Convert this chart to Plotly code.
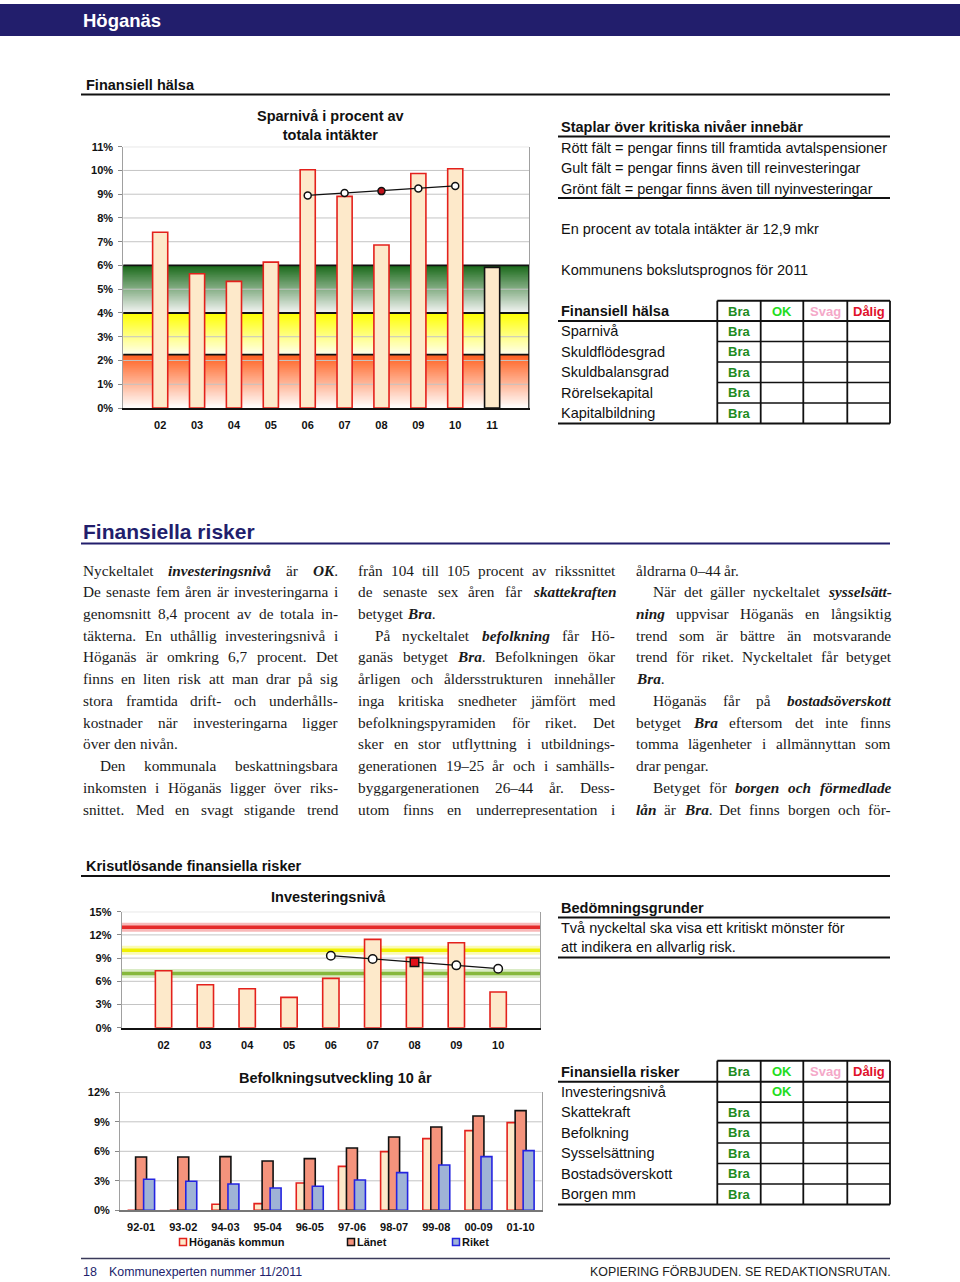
import plotly.graph_objects as go

# ---------------- data ----------------
years_spar = ['02', '03', '04', '05', '06', '07', '08', '09', '10', '11']
spar_pct = [7.40, 5.65, 5.33, 6.14, 10.03, 8.91, 6.86, 9.87, 10.07, 5.92]
spar_trend_years = ['06', '07', '08', '09', '10']
spar_trend = [8.95, 9.05, 9.13, 9.24, 9.35]
spar_levels = [2.25, 4.0, 6.0]          # tops of red / yellow / green fields

years_inv = ['02', '03', '04', '05', '06', '07', '08', '09', '10']
inv_pct = [7.37, 5.56, 5.04, 3.92, 6.38, 11.42, 9.09, 10.99, 4.61]
inv_trend_years = ['06', '07', '08', '09', '10']
inv_trend = [9.31, 8.88, 8.45, 8.06, 7.63]
inv_levels = [7.0, 10.0, 13.0]          # green / yellow / red critical lines

periods = ['92-01', '93-02', '94-03', '95-04', '96-05', '97-06', '98-07', '99-08', '00-09', '01-10']
pop_hoganas = [0.0, 0.0, 0.61, 0.68, 2.78, 4.47, 5.97, 7.29, 8.10, 8.92]
pop_lanet = [5.42, 5.42, 5.46, 5.02, 5.25, 6.34, 7.46, 8.47, 9.59, 10.14]
pop_riket = [3.15, 2.95, 2.68, 2.27, 2.44, 3.08, 3.83, 4.61, 5.46, 6.07]
pop_series = ['Höganäs kommun', 'Länet', 'Riket']

grade_names = ['Bra', 'OK', 'Svag', 'Dålig']
health_items = ['Sparnivå', 'Skuldflödesgrad', 'Skuldbalansgrad', 'Rörelsekapital', 'Kapitalbildning']
health_grades = ['Bra', 'Bra', 'Bra', 'Bra', 'Bra']
risk_items = ['Investeringsnivå', 'Skattekraft', 'Befolkning', 'Sysselsättning', 'Bostadsöverskott', 'Borgen mm']
risk_grades = ['OK', 'Bra', 'Bra', 'Bra', 'Bra', 'Bra']

info_lines = ['Rött fält = pengar finns till framtida avtalspensioner',
              'Gult fält = pengar finns även till reinvesteringar',
              'Grönt fält = pengar finns även till nyinvesteringar']

# *...* marks bold italic, a leading tab marks a paragraph indent
col1 = ['Nyckeltalet *investeringsnivå* är *OK*.',
        'De senaste fem åren är investeringarna i',
        'genomsnitt 8,4 procent av de totala in-',
        'täkterna. En uthållig investeringsnivå i',
        'Höganäs är omkring 6,7 procent. Det',
        'finns en liten risk att man drar på sig',
        'stora framtida drift- och underhålls-',
        'kostnader när investeringarna ligger',
        'över den nivån.',
        '\tDen kommunala beskattningsbara',
        'inkomsten i Höganäs ligger över riks-',
        'snittet. Med en svagt stigande trend']
col2 = ['från 104 till 105 procent av rikssnittet',
        'de senaste sex åren får *skattekraften*',
        'betyget *Bra*.',
        '\tPå nyckeltalet *befolkning* får Hö-',
        'ganäs betyget *Bra*. Befolkningen ökar',
        'årligen och åldersstrukturen innehåller',
        'inga kritiska snedheter jämfört med',
        'befolkningspyramiden för riket. Det',
        'sker en stor utflyttning i utbildnings-',
        'generationen 19–25 år och i samhälls-',
        'byggargenerationen 26–44 år. Dess-',
        'utom finns en underrepresentation i']
col3 = ['åldrarna 0–44 år.',
        '\tNär det gäller nyckeltalet *sysselsätt-*',
        '*ning* uppvisar Höganäs en långsiktig',
        'trend som är bättre än motsvarande',
        'trend för riket. Nyckeltalet får betyget',
        '*Bra*.',
        '\tHöganäs får på *bostadsöverskott*',
        'betyget *Bra* eftersom det inte finns',
        'tomma lägenheter i allmännyttan som',
        'drar pengar.',
        '\tBetyget för *borgen och förmedlade*',
        '*lån* är *Bra*. Det finns borgen och för-']

# ---------------- styling helpers ----------------
W, H = 960, 1282
SANS = "Liberation Sans, Arial, Helvetica, sans-serif"
NARROW = "Liberation Sans Narrow, Arial Narrow, Liberation Sans, Arial, sans-serif"
SERIF = "Liberation Serif, Times New Roman, DejaVu Serif, serif"
NAVY = "#221e6c"
PEACH = "#fde9ca"
RED = "#e3211c"
GRADE_COLORS = {'Bra': '#1e8c1e', 'OK': '#22dd22', 'Svag': '#f4a8c8', 'Dålig': '#e0102a'}
SIZE_R = 14.5


def px(x):
    return x / W


def py(y):
    return 1 - y / H


shapes = []
annotations = []


def text(t, x, y, size=SIZE_R, color="#111", bold=False, xanchor="left", family=SANS):
    if xanchor == "left":
        x -= 2
    elif xanchor == "right":
        x += 2
    annotations.append(dict(text=f"<b>{t}</b>" if bold else t, x=px(x), y=py(y),
                            xref="paper", yref="paper", xanchor=xanchor, yanchor="middle",
                            showarrow=False, font=dict(family=family, size=size, color=color)))


def hline(x0, x1, y, width=2, color="#111"):
    shapes.append(dict(type="line", xref="paper", yref="paper", x0=px(x0), x1=px(x1),
                       y0=py(y), y1=py(y), line=dict(color=color, width=width)))


def vline(x, y0, y1, width=2, color="#111"):
    shapes.append(dict(type="line", xref="paper", yref="paper", x0=px(x), x1=px(x),
                       y0=py(y0), y1=py(y1), line=dict(color=color, width=width)))


def mix(c0, c1, t):
    return "rgb(%d,%d,%d)" % tuple(round(a + (b - a) * t) for a, b in zip(c0, c1))


def gradient_band(xdom, yref, lo, hi, bottom, top, n=40):
    for k in range(n):
        t = (k + 0.5) / n
        shapes.append(dict(type="rect", xref=xdom, yref=yref, x0=0, x1=1,
                           y0=lo + (hi - lo) * k / n, y1=hi,
                           fillcolor=mix(bottom, top, t), line=dict(width=0), layer="below"))


def grid(xdom, yref, rng, step, color="#c4c4c4"):
    v = step
    while v <= rng[1] + 1e-9:
        shapes.append(dict(type="line", xref=xdom, yref=yref, x0=0, x1=1, y0=v, y1=v,
                           line=dict(color=color, width=1), layer="below"))
        v += step


# Times / Liberation Serif advance widths (1/1000 em) for justification
REG = dict(zip("abcdefghijklmnopqrstuvwxyz",
               [444, 500, 444, 500, 444, 333, 500, 500, 278, 278, 500, 278, 778, 500, 500, 500,
                500, 333, 389, 278, 500, 500, 722, 500, 500, 444]))
REG.update(dict(zip("ABCDEFGHIJKLMNOPQRSTUVWXYZ",
                    [722, 667, 667, 722, 611, 556, 722, 722, 333, 389, 722, 611, 889, 722, 722,
                     556, 722, 667, 556, 611, 722, 722, 944, 722, 722, 611])))
REG.update({'å': 444, 'ä': 444, 'ö': 500, 'é': 444, 'Å': 722, 'Ä': 722, 'Ö': 722, '.': 250,
            ',': 250, '-': 333, '–': 500, ' ': 250, ':': 278})
REG.update({str(d): 500 for d in range(10)})
BI = dict(zip("abcdefghijklmnopqrstuvwxyz",
              [500, 500, 444, 500, 444, 333, 500, 556, 278, 278, 500, 278, 778, 556, 500, 500,
               500, 389, 389, 278, 556, 444, 667, 500, 444, 389]))
BI.update(dict(zip("ABCDEFGHIJKLMNOPQRSTUVWXYZ",
                   [667, 667, 667, 722, 667, 667, 722, 778, 389, 500, 667, 611, 889, 722, 722,
                    611, 722, 667, 556, 611, 722, 667, 889, 667, 611, 611])))
BI.update({'å': 500, 'ä': 500, 'ö': 500, '-': 333, '.': 250})


def words_of(line):
    """split a *markup* line into words, each a list of (text, bold_italic) segments"""
    words, cur, seg, bi = [], [], "", False
    for ch in line:
        if ch == "*":
            if seg:
                cur.append((seg, bi))
                seg = ""
            bi = not bi
        elif ch == " ":
            if seg:
                cur.append((seg, bi))
                seg = ""
            if cur:
                words.append(cur)
                cur = []
        else:
            seg += ch
    if seg:
        cur.append((seg, bi))
    if cur:
        words.append(cur)
    return words


def seg_width(s, bi, size):
    table = BI if bi else REG
    return sum(table.get(c, REG.get(c, 500)) for c in s) * size / 1000.0


def body_column(lines, x0, x1, y0, dy, size=15.3, indent=17):
    for i, raw in enumerate(lines):
        ind = raw.startswith("\t")
        line = raw.lstrip("\t")
        nxt = lines[i + 1] if i + 1 < len(lines) else None
        justify = nxt is None or not nxt.startswith("\t")
        left = x0 + (indent if ind else 0)
        ws = words_of(line)
        widths = [sum(seg_width(s, b, size) for s, b in w) for w in ws]
        space = 250 * size / 1000.0
        if justify and len(ws) > 1:
            gap = (x1 - left - sum(widths)) / (len(ws) - 1)
        else:
            gap = space
        x = left
        for w, wd in zip(ws, widths):
            html = "".join(f"<b><i>{s}</i></b>" if b else s for s, b in w)
            text(html, x, y0 + i * dy, size=size, color="#1a1a1a", family=SERIF)
            x += wd + gap


fig = go.Figure()

# ---------------- page frame ----------------
shapes.append(dict(type="rect", xref="paper", yref="paper", x0=0, x1=1, y0=py(36), y1=py(4),
                   fillcolor=NAVY, line=dict(width=0)))
text("Höganäs", 83, 21, size=18.5, color="white", bold=True, family=NARROW)

text("Finansiell hälsa", 86, 85, size=SIZE_R, bold=True)
hline(81, 890, 94.5, width=2.2)

# ---------------- chart 1: Sparnivå ----------------
idx1 = list(range(len(years_spar)))
fig.add_trace(go.Bar(x=idx1, y=spar_pct, width=0.41, xaxis="x", yaxis="y",
                     marker=dict(color=PEACH, line=dict(color=["#111" if yr == years_spar[-1] else RED
                                                               for yr in years_spar], width=1.6))))
tx1 = [years_spar.index(yr) for yr in spar_trend_years]
mid1 = len(spar_trend_years) // 2
fig.add_trace(go.Scatter(x=tx1, y=spar_trend, mode="lines+markers", xaxis="x", yaxis="y",
                         line=dict(color="#111", width=1.3),
                         marker=dict(size=7, color=["#c0101a" if i == mid1 else "white"
                                                   for i in range(len(tx1))],
                                     line=dict(color="#111", width=1.5))))

band_tops = [(255, 95, 30), (255, 255, 0), (25, 105, 25)]
band_bottoms = [(255, 255, 255), (255, 255, 238), (245, 245, 245)]
lo = 0.0
for hi, top, bot in zip(spar_levels, band_tops, band_bottoms):
    gradient_band("x domain", "y", lo, hi, bot, top)
    lo = hi
grid("x domain", "y", [0, 11], 1)
for hi in spar_levels:
    shapes.append(dict(type="line", xref="x domain", yref="y", x0=0, x1=1, y0=hi, y1=hi,
                       line=dict(color="#111", width=1.8), layer="below"))
shapes.append(dict(type="line", xref="x domain", yref="y", x0=1, x1=1, y0=0, y1=spar_levels[-1],
                   line=dict(color="#111", width=1.5), layer="below"))
text("Sparnivå i procent av<br>totala intäkter", 330, 125, size=SIZE_R, bold=True, xanchor="center")

# ---------------- right column, top ----------------
text("Staplar över kritiska nivåer innebär", 561, 127, bold=True)
hline(558, 890, 136.5, width=2)
for i, line in enumerate(info_lines):
    text(line, 561, 147.5 + i * 20.5)
hline(558, 890, 198, width=2)
text("En procent av totala intäkter är 12,9 mkr", 561, 229)
text("Kommunens bokslutsprognos för 2011", 561, 270)

COLS = [717.3, 760.7, 803.3, 847.3, 890]


def grade_table(title, items, grades, top, header, row_h):
    bottom = header + row_h * len(items)
    hline(COLS[0], COLS[-1], top, width=2)
    hline(558, 890, header, width=2)
    for k in range(1, len(items)):
        hline(COLS[0], COLS[-1], header + k * row_h, width=1.6)
    hline(558, 890, bottom, width=2)
    for x in COLS:
        vline(x, top, bottom, width=1.8)
    ty = (top + header) / 2 + 0.5
    text(title, 561, ty, bold=True)
    for j, g in enumerate(grade_names):
        text(g, (COLS[j] + COLS[j + 1]) / 2, ty, size=13, bold=True,
             color=GRADE_COLORS[g], xanchor="center")
    for k, (item, g) in enumerate(zip(items, grades)):
        yy = header + (k + 0.5) * row_h
        text(item, 561, yy)
        j = grade_names.index(g)
        text(g, (COLS[j] + COLS[j + 1]) / 2, yy, size=13, bold=True,
             color=GRADE_COLORS[g], xanchor="center")


grade_table("Finansiell hälsa", health_items, health_grades, 300.7, 321, 20.5)

# ---------------- Finansiella risker heading + text ----------------
text("Finansiella risker", 83, 531, size=21, color=NAVY, bold=True, family=NARROW)
hline(81, 890, 543.5, width=2, color=NAVY)

body_column(col1, 83, 338, 570, 21.73)
body_column(col2, 358, 615, 570, 21.73)
body_column(col3, 636, 891, 570, 21.73)

# ---------------- Krisutlösande ----------------
text("Krisutlösande finansiella risker", 86, 866, size=SIZE_R, bold=True)
hline(81, 890, 876, width=2.2)

# chart 2: Investeringsnivå
idx2 = list(range(len(years_inv)))
fig.add_trace(go.Bar(x=idx2, y=inv_pct, width=0.39, xaxis="x2", yaxis="y2",
                     marker=dict(color=PEACH, line=dict(color=RED, width=1.6))))
tx2 = [years_inv.index(yr) for yr in inv_trend_years]
mid2 = len(inv_trend_years) // 2
fig.add_trace(go.Scatter(x=tx2, y=inv_trend, mode="lines+markers", xaxis="x2", yaxis="y2",
                         line=dict(color="#111", width=1.3),
                         marker=dict(size=8.5,
                                     symbol=["square" if i == mid2 else "circle" for i in range(len(tx2))],
                                     color=["#e0101a" if i == mid2 else "white" for i in range(len(tx2))],
                                     line=dict(color="#111", width=1.5))))
grid("x2 domain", "y2", [0, 15], 3)
glow = [("#d9ebc4", "#86b83c"), ("#fafab4", "#f0f000"), ("#f8b8b8", "#e52a2a")]
for lvl, (halo, core) in zip(inv_levels, glow):
    shapes.append(dict(type="line", xref="x2 domain", yref="y2", x0=0, x1=1, y0=lvl, y1=lvl,
                       line=dict(color=halo, width=9), layer="below"))
    shapes.append(dict(type="line", xref="x2 domain", yref="y2", x0=0, x1=1, y0=lvl, y1=lvl,
                       line=dict(color=core, width=3.5), layer="below"))
text("Investeringsnivå", 328, 897, size=SIZE_R, bold=True, xanchor="center")

text("Bedömningsgrunder", 561, 908, bold=True)
hline(558, 890, 917.5, width=2)
text("Två nyckeltal ska visa ett kritiskt mönster för", 561, 927.5)
text("att indikera en allvarlig risk.", 561, 947)
hline(558, 890, 957.5, width=2)

# chart 3: Befolkningsutveckling
idx3 = list(range(len(periods)))
pop_values = [pop_hoganas, pop_lanet, pop_riket]
pop_fill = [PEACH, "#f4937c", "#9fb3d6"]
pop_edge = [RED, "#111", "#2424e0"]
pop_offset = [-0.32, -0.13, 0.06]
grid("x3 domain", "y3", [0, 12], 3)
for vals, fc, ec, off in zip(pop_values, pop_fill, pop_edge, pop_offset):
    fig.add_trace(go.Bar(x=idx3, y=vals, width=0.26, offset=off, xaxis="x3", yaxis="y3",
                         marker=dict(color=fc, line=dict(color=ec, width=1.6))))
text("Befolkningsutveckling 10 år", 335, 1078, size=SIZE_R, bold=True, xanchor="center")
for name, fc, ec, sx in zip(pop_series, pop_fill, pop_edge, (183, 351, 456)):
    shapes.append(dict(type="rect", xref="paper", yref="paper", x0=px(sx - 3.5), x1=px(sx + 3.5),
                       y0=py(1245.5), y1=py(1238.5), fillcolor=fc, line=dict(color=ec, width=1.5)))
    text(name, sx + 6, 1242, size=11, bold=True)

grade_table("Finansiella risker", risk_items, risk_grades, 1060.7, 1081.7, 20.45)

# ---------------- footer ----------------
hline(81, 890, 1258.5, width=1.5, color="#3a3a5a")
text("18", 83, 1271.5, size=12.5, color=NAVY, family=NARROW)
text("Kommunexperten nummer 11/2011", 109, 1271.5, size=12.4, color=NAVY, family=NARROW)
text("KOPIERING FÖRBJUDEN. SE REDAKTIONSRUTAN.", 891, 1271.5, size=12.4, color="#222",
     family=NARROW, xanchor="right")

# ---------------- axes ----------------
tickfont = dict(family=SANS, size=11, color="#111", weight="bold")


def xax(dom, rng, labels, linecolor="#111"):
    return dict(domain=[px(dom[0]), px(dom[1])], range=rng, tickvals=list(range(len(labels))),
                ticktext=labels, showgrid=False, zeroline=False, showline=True,
                linecolor=linecolor, linewidth=1.6, ticks="", tickfont=tickfont,
                ticklabelstandoff=6, fixedrange=True, automargin=False)


def yax(dom, rng, dtick):
    return dict(domain=[py(dom[0]), py(dom[1])], range=rng, dtick=dtick, ticksuffix="%",
                showgrid=False, zeroline=False, showline=True,
                linecolor="#a0a0a0", linewidth=1, mirror=True, ticks="outside", ticklen=4,
                tickcolor="#888", tickfont=tickfont, ticklabelstandoff=3, fixedrange=True,
                automargin=False)


fig.update_layout(
    template="none",
    width=W, height=H, autosize=False, margin=dict(l=0, r=0, t=0, b=0, pad=0),
    paper_bgcolor="white", plot_bgcolor="white", showlegend=False, barmode="overlay",
    font=dict(family=SANS, color="#111"),
    xaxis=dict(xax((123.3, 529), [-1, 10], years_spar), anchor="y"),
    yaxis=dict(yax((408, 146.7), [0, 11], 1), anchor="x"),
    xaxis2=dict(xax((121.7, 540), [-1, 9], years_inv), anchor="y2"),
    yaxis2=dict(yax((1027.7, 911.7), [0, 15], 3), anchor="x2"),
    xaxis3=dict(xax((120, 541.7), [-0.5, 9.5], periods, linecolor="#777"), anchor="y3"),
    yaxis3=dict(yax((1210.3, 1092.3), [0, 12], 3), anchor="x3"),
    shapes=shapes, annotations=annotations,
)

fig.write_html("out.html")
